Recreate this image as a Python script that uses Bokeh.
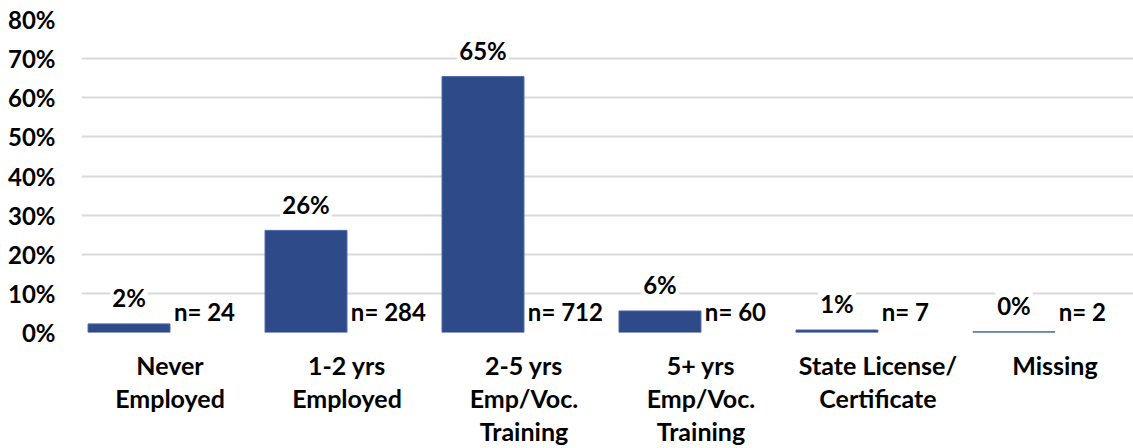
from bokeh.plotting import figure
from bokeh.models import ColumnDataSource, FixedTicker, Range1d
from bokeh.core.properties import value
from bokeh.embed import file_html
from bokeh.resources import INLINE

categories = ["Never\nEmployed", "1-2 yrs\nEmployed", "2-5 yrs\nEmp/Voc.\nTraining",
              "5+ yrs\nEmp/Voc.\nTraining", "State License/\nCertificate", "Missing"]
counts = [24, 284, 712, 60, 7, 2]
shares = [0.022, 0.261, 0.654, 0.055, 0.0064, 0.0018]
pct_labels = ["2%", "26%", "65%", "6%", "1%", "0%"]
n_labels = ["n= 24", "n= 284", "n= 712", "n= 60", "n= 7", "n= 2"]
y_ticks = [0, 0.1, 0.2, 0.3, 0.4, 0.5, 0.6, 0.7, 0.8]
y_tick_labels = ["0%", "10%", "20%", "30%", "40%", "50%", "60%", "70%", "80%"]

FONT = value("Lato")
BAR_W = 0.463
centers = [i + 0.5 for i in range(len(categories))]

src = ColumnDataSource(dict(
    xc=centers,
    xb=[c - BAR_W / 2 for c in centers],
    xn=[c + 0.022 for c in centers],
    share=shares,
    pct=pct_labels,
    n=n_labels,
    nlab_y=[0.054] * len(categories),
))

p = figure(width=1133, height=448, output_backend="svg", toolbar_location=None,
           x_range=Range1d(0, 5.944), y_range=Range1d(0, 0.8),
           min_border_left=81, min_border_right=0, min_border_top=19, min_border_bottom=116)
p.outline_line_color = None
p.background_fill_color = "white"
p.border_fill_color = "white"

p.vbar(x="xb", top="share", bottom=0, width=BAR_W, source=src,
       fill_color="#2E4A88", line_color="#4A66A8", line_width=1)

p.text(x="xb", y="share", text="pct", source=src, text_font=FONT, text_font_style="bold",
       text_font_size="24px", text_align="center", text_baseline="middle", y_offset=-26,
       text_color="black", background_fill_color="white", padding=2)
p.text(x="xn", y="nlab_y", text="n", source=src, text_font=FONT, text_font_style="bold",
       text_font_size="24px", text_align="left", text_baseline="middle", text_color="black")

# y axis
p.yaxis.ticker = FixedTicker(ticks=y_ticks)
p.yaxis.major_label_overrides = {t: l for t, l in zip(y_ticks, y_tick_labels)}
p.yaxis.axis_line_color = None
p.yaxis.major_tick_line_color = None
p.yaxis.minor_tick_line_color = None
p.yaxis.major_tick_out = 0
p.yaxis.major_tick_in = 0
p.yaxis.minor_tick_out = 0
p.yaxis.major_label_standoff = 26
p.yaxis.major_label_text_font = "Lato"
p.yaxis.major_label_text_font_style = "bold"
p.yaxis.major_label_text_font_size = "24px"
p.yaxis.major_label_text_color = "black"

# x axis (category labels)
p.xaxis.ticker = FixedTicker(ticks=centers)
p.xaxis.major_label_overrides = {c: l for c, l in zip(centers, categories)}
p.xaxis.axis_line_color = None
p.xaxis.major_tick_line_color = None
p.xaxis.minor_tick_line_color = None
p.xaxis.major_tick_out = 0
p.xaxis.major_tick_in = 0
p.xaxis.minor_tick_out = 0
p.xaxis.major_label_standoff = 17
p.xaxis.major_label_text_font = "Lato"
p.xaxis.major_label_text_font_style = "bold"
p.xaxis.major_label_text_font_size = "25px"
p.xaxis.major_label_text_color = "black"
p.xaxis.major_label_text_line_height = 1.1

p.xgrid.grid_line_color = None
p.ygrid.ticker = FixedTicker(ticks=y_ticks)
p.ygrid.grid_line_color = "#D9D9D9"
p.ygrid.grid_line_width = 2

open("out.html", "w").write(file_html(p, INLINE))
